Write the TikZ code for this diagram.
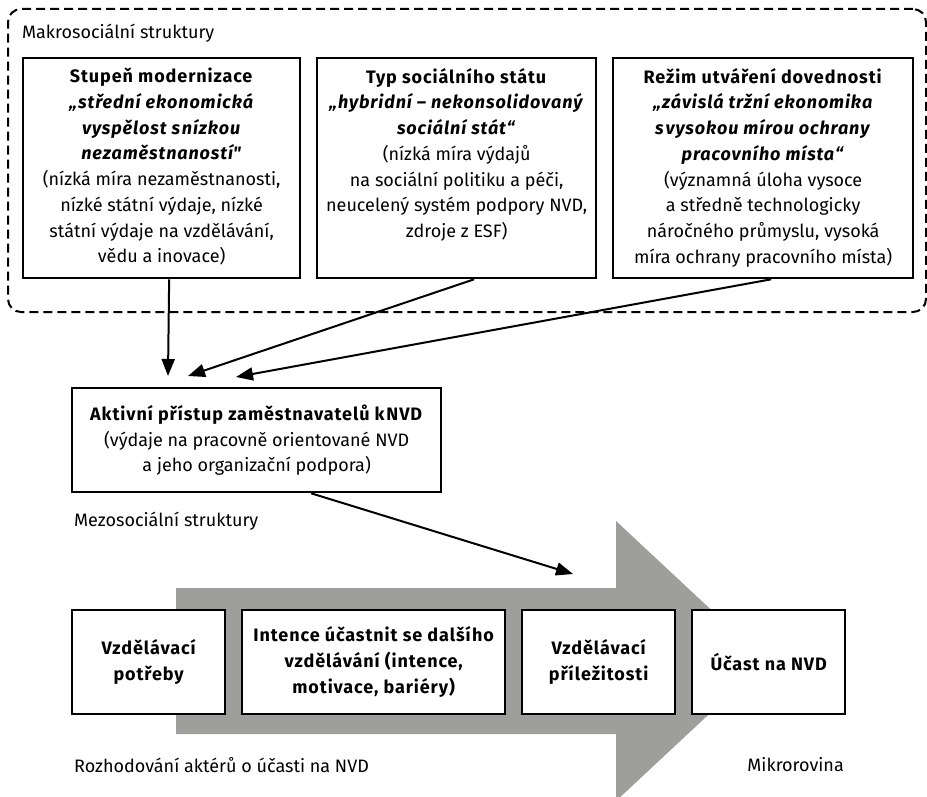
\documentclass[tikz,border=0pt]{standalone}
\usepackage{fontspec}
\setmainfont{Fira Sans}[BoldFeatures={LetterSpace=5}, BoldItalicFeatures={LetterSpace=5}]
\usetikzlibrary{arrows.meta,calc}
\definecolor{flowgray}{RGB}{158,158,157}
\newcommand{\straightquote}{{\addfontfeature{Ligatures=TeXOff}"}}
\begin{document}
\begin{tikzpicture}[x=1pt,y=-1pt,
  every node/.style={font=\fontsize{18}{25.7}\selectfont},
  frame/.style={draw, line width=2pt, dash pattern=on 9pt off 5pt, rounded corners=13pt,
                inner sep=0pt, anchor=north west},
  boxframe/.style={draw, line width=2.3pt, inner sep=0pt, anchor=north west},
  boxtext/.style={align=center, inner sep=0pt, anchor=north},
  stepbox/.style={draw, fill=white, line width=2.3pt, inner sep=0pt, anchor=north west,
                  align=center, minimum height=104pt, font=\fontsize{18}{25.7}\selectfont\bfseries},
  caption/.style={inner sep=0pt},
  link/.style={line width=2pt, -{Triangle[length=17pt,width=13pt]}}]

\useasboundingbox (0,0) rectangle (927,797);

% macro level frame and its three boxes
\node[frame, minimum width=918pt, minimum height=303pt] (macro) at (7,8) {};
\node[caption, anchor=base west] (macrolabel) at (22,39) {Makrosociální struktury};

\node[boxframe, minimum width=277pt, minimum height=220pt] (b1) at (22,57) {};
\node[boxframe, minimum width=279pt, minimum height=220pt] (b2) at (316,57) {};
\node[boxframe, minimum width=300pt, minimum height=220pt] (b3) at (612,57) {};

\node[boxtext] (b1t) at ($(b1.north)+(0,11)$) {%
  \textbf{Stupeň modernizace}\\
  \textbf{\textit{„střední ekonomická}}\\
  \textbf{\textit{vyspělost s\kern0.1em nízkou}}\\
  \textbf{\textit{nezaměstnaností\straightquote}}\\
  (nízká míra nezaměstnanosti,\\
  nízké státní výdaje, nízké\\
  státní výdaje na vzdělávání,\\
  vědu a inovace)};

\node[boxtext] (b2t) at ($(b2.north)+(0,11)$) {%
  \textbf{Typ sociálního státu}\\
  \textbf{\textit{„hybridní – nekonsolidovaný}}\\
  \textbf{\textit{sociální stát“}}\\
  (nízká míra výdajů\\
  na sociální politiku a péči,\\
  neucelený systém podpory NVD,\\
  zdroje z ESF)};

\node[boxtext] (b3t) at ($(b3.north)+(0,11)$) {%
  \textbf{Režim utváření dovednosti}\\
  \textbf{\textit{„závislá tržní ekonomika}}\\
  \textbf{\textit{s\kern0.1em vysokou mírou ochrany}}\\
  \textbf{\textit{pracovního místa“}}\\
  (významná úloha vysoce\\
  a středně technologicky\\
  náročného průmyslu, vysoká\\
  míra ochrany pracovního místa)};

% meso level
\node[boxframe, minimum width=369pt, minimum height=104pt, align=center] (akt) at (71,387) {%
  \textbf{Aktivní přístup zaměstnavatelů k\kern0.1em NVD}\\
  (výdaje na pracovně orientované NVD\\
  a jeho organizační podpora)};
\node[caption, anchor=base west] (mesolabel) at (74,526) {Mezosociální struktury};

\coordinate (t1) at (168,376);
\coordinate (t2) at (188,376);
\coordinate (t3) at (236,377);
\coordinate (t4) at (573,574);

\draw[link] ($(b1.south)+(7.5,0)$) -- (t1);
\draw[link] ($(b2.south)+(17.5,0)$) -- (t2);
\draw[link] ($(b3.south)+(8,0)$) -- (t3);

% micro level: decision flow
\fill[flowgray] (176,588) -- (616,588) -- (616,521) -- (766,661) -- (616,801)
  -- (616,734) -- (176,734) -- cycle;

\node[stepbox, minimum width=153pt] (n1) at (71,609) {Vzdělávací\\potřeby};
\node[stepbox, minimum width=263pt] (n2) at (241,609) {Intence účastnit se dalšího\\vzdělávání (intence,\\motivace, bariéry)};
\node[stepbox, minimum width=153pt] (n3) at (521,609) {Vzdělávací\\příležitosti};
\node[stepbox, minimum width=153pt] (n4) at (691,609) {Účast na NVD};

\draw[link] ($(akt.south)+(54.5,0)$) -- (t4);

\node[caption, anchor=west] (microlabel) at (74,765) {Rozhodování aktérů o účasti na NVD};
\node[caption, anchor=east] (microright) at (844,765) {Mikrorovina};
\end{tikzpicture}
\end{document}
